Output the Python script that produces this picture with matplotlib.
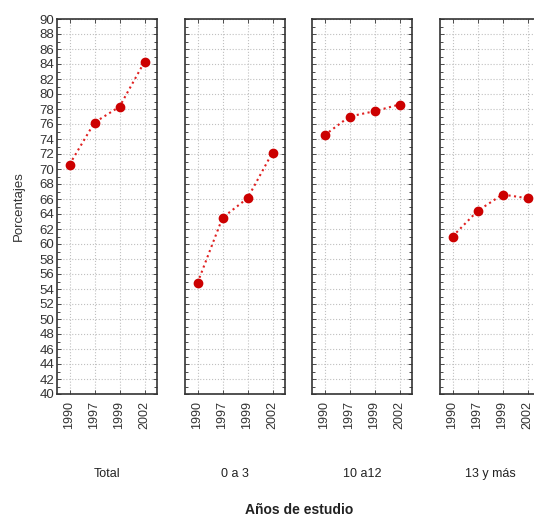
import matplotlib.pyplot as plt

plt.rcParams['font.family'] = ['Liberation Sans', 'DejaVu Sans']

# data
years = ['1990', '1997', '1999', '2002']
groups = ['Total', '0 a 3', '10 a12', '13 y más']
total = [70.6, 76.2, 78.3, 84.3]
g_0a3 = [54.8, 63.5, 66.1, 72.2]
g_10a12 = [74.5, 77.0, 77.7, 78.6]
g_13ymas = [61.0, 64.4, 66.6, 66.1]
series = [total, g_0a3, g_10a12, g_13ymas]
yticks = list(range(40, 91, 2))

fig = plt.figure(figsize=(5.34, 5.17), dpi=100)
W, H = 534, 517
lefts = [57, 185, 312, 440]  # panel left edges in px

for i, (name, vals) in enumerate(zip(groups, series)):
    ax = fig.add_axes([lefts[i] / W, 1 - 394 / H, 100 / W, 375 / H])
    x = range(len(years))
    ax.plot(x, vals, color='#e02020', linestyle=':', linewidth=1.5, zorder=3)
    ax.plot(x, vals, 'o', color='#cc0000', markersize=6, zorder=4)
    ax.set_xlim(-0.5, 3.5)
    ax.set_ylim(40, 90)
    ax.set_xticks(list(x))
    ax.set_xticklabels(years, rotation=90, fontsize=9, color='#333333')
    ax.set_yticks(yticks)
    ax.set_yticks(range(40, 91), minor=True)
    ax.grid(True, which='major', color='#c0c0c0', linestyle=':', linewidth=0.8)
    ax.tick_params(direction='in', top=True, right=True, length=3, width=0.6, color='#333333', pad=5)
    ax.tick_params(which='minor', direction='in', length=2, width=0.5, left=True, right=True)
    for s in ax.spines.values():
        s.set_color('#333333')
        s.set_linewidth(1.2)
    if i == 0:
        ax.set_yticklabels([str(v) for v in yticks], fontsize=9.5, color='#333333')
        ax.tick_params(axis='y', pad=2)
        ax.set_ylabel('Porcentajes', fontsize=9.5, color='#333333')
        ax.yaxis.set_label_coords(-0.32, 0.5)
    else:
        ax.set_yticklabels([])
    fig.text((lefts[i] + 50) / W, 1 - 474 / H, name, ha='center', va='center', fontsize=9, color='#222222')

fig.text(299 / W, 1 - 510 / H, 'Años de estudio', ha='center', va='center', fontsize=10, fontweight='bold', color='#222222')

fig.savefig('out.png', dpi=100)
